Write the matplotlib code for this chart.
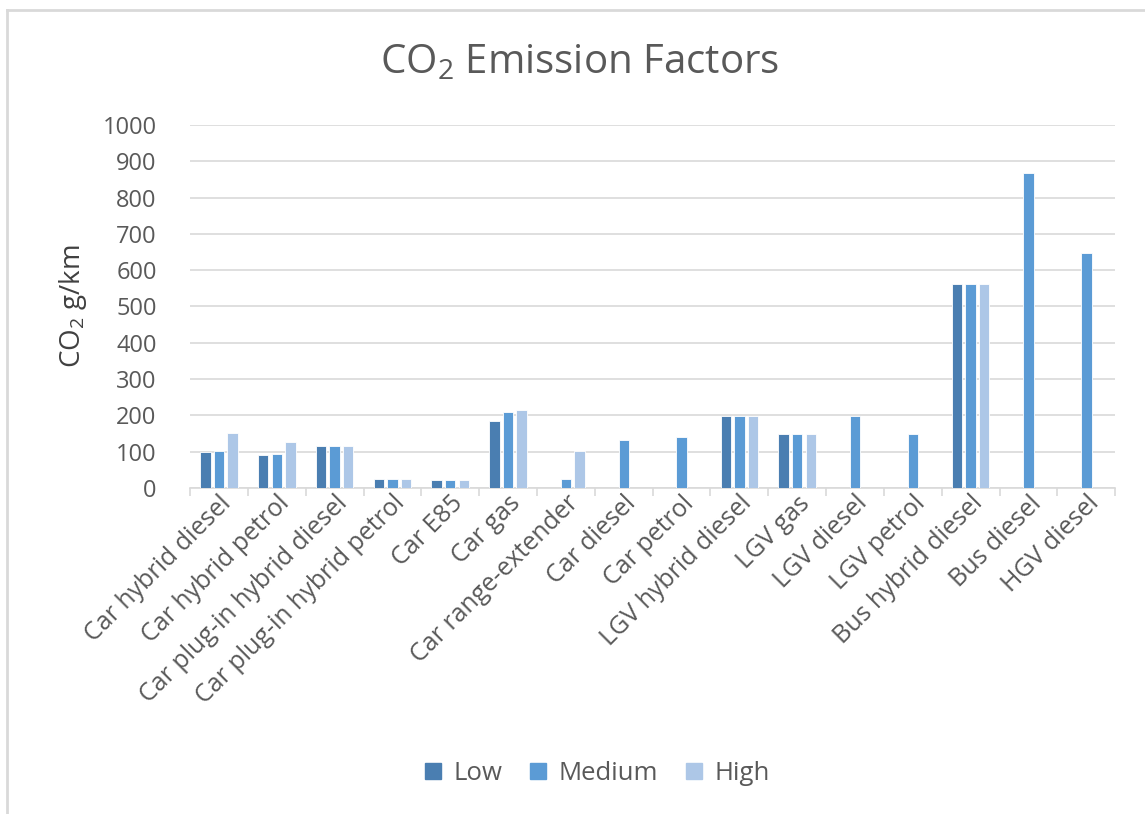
import numpy as np
import matplotlib
matplotlib.use("Agg")
import matplotlib.pyplot as plt
from matplotlib.lines import Line2D

plt.rcParams['font.family'] = ['Open Sans', 'DejaVu Sans']

categories = ['Car hybrid diesel', 'Car hybrid petrol', 'Car plug-in hybrid diesel',
              'Car plug-in hybrid petrol', 'Car E85', 'Car gas', 'Car range-extender',
              'Car diesel', 'Car petrol', 'LGV hybrid diesel', 'LGV gas', 'LGV diesel',
              'LGV petrol', 'Bus hybrid diesel', 'Bus diesel', 'HGV diesel']
nan = np.nan
low = [99, 90, 115, 25, 21, 185, nan, nan, nan, 198, 148, nan, nan, 563, nan, nan]
medium = [103, 95, 115, 25, 21, 210, 25, 131, 140, 198, 148, 198, 148, 563, 869, 646]
high = [152, 128, 115, 25, 21, 214, 103, nan, nan, 198, 148, nan, nan, 563, nan, nan]
series = ['Low', 'Medium', 'High']
colors = ['#4A7EB1', '#5B9BD5', '#ADC7E7']

fig = plt.figure(figsize=(11.45, 8.14), dpi=100)
ax = fig.add_axes([0.166, 0.4005, 0.808, 0.446])

x = np.arange(len(categories))
w = 0.18
step = 0.235
for i, (vals, c, name) in enumerate(zip([low, medium, high], colors, series)):
    ax.bar(x + (i - 1) * step, vals, width=w, color=c, label=name,
           edgecolor='white', linewidth=0.6, zorder=3)

ax.set_xlim(-0.5, len(categories) - 0.5)
ax.set_ylim(0, 1000)
ax.set_yticks(range(0, 1001, 100))
ax.yaxis.grid(True, color='#D9D9D9', linewidth=1.2, zorder=0)
ax.tick_params(axis='y', length=0, labelsize=17, labelcolor='#595959', pad=24)

ax.set_xticks(x)
ax.set_xticklabels(categories, rotation=45, ha='right', rotation_mode='anchor',
                   fontsize=18, color='#595959')
ax.tick_params(axis='x', length=0, pad=2)
ax.set_xticks(np.arange(-0.5, len(categories)), minor=True)
ax.tick_params(axis='x', which='minor', length=6, color='#D9D9D9', width=1.2)

for s in ['top', 'right', 'left']:
    ax.spines[s].set_visible(False)
ax.spines['bottom'].set_color('#D9D9D9')
ax.spines['bottom'].set_linewidth(1.2)

ax.set_ylabel(r'CO$\mathregular{_2}$ g/km', fontsize=20, color='#404040', labelpad=10)
fig.text(0.506, 0.922, r'CO$\mathregular{_2}$ Emission Factors', fontsize=29,
         color='#595959', ha='center', va='center')

handles = [Line2D([], [], marker='s', linestyle='none', markersize=11,
                  markerfacecolor=c, markeredgecolor=c) for c in colors]
fig.legend(handles, series, loc='center', bbox_to_anchor=(0.514, 0.05), ncol=3,
           frameon=False, fontsize=18.5, labelcolor='#595959', handletextpad=-0.2,
           columnspacing=0.4)

# outer chart border
fig.add_artist(Line2D([0.006, 0.006], [0, 0.988], color='#D9D9D9', linewidth=2,
                      transform=fig.transFigure))
fig.add_artist(Line2D([0.006, 1.0], [0.988, 0.988], color='#D9D9D9', linewidth=2,
                      transform=fig.transFigure))

fig.savefig('out.png', dpi=100)
